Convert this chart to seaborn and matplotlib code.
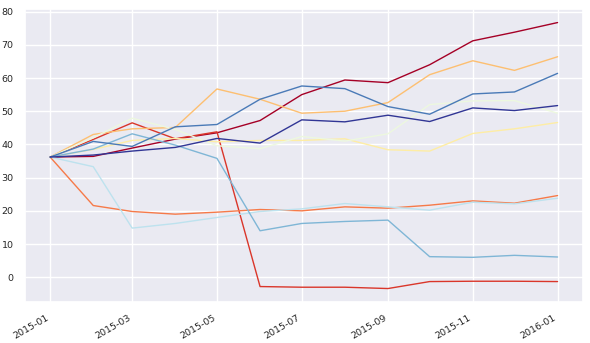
import numpy as np
import pandas as pd
import matplotlib
matplotlib.use("Agg")
import matplotlib.pyplot as plt
import matplotlib.dates as mdates
import seaborn as sns

dates = pd.date_range("2015-01-01", "2016-01-01", freq="MS")

s0 = [36.2, 36.4, 38.9, 41.6, 43.5, 47.2, 55.0, 59.4, 58.6, 64.0, 71.2, 73.8, 76.7]
s1 = [36.2, 41.5, 46.5, 41.7, 43.8, -2.8, -3.0, -3.0, -3.4, -1.3, -1.2, -1.2, -1.3]
s2 = [36.2, 21.6, 19.8, 19.0, 19.6, 20.4, 20.0, 21.2, 20.8, 21.7, 23.0, 22.3, 24.6]
s3 = [36.2, 43.0, 44.7, 45.1, 56.7, 53.6, 49.4, 50.0, 52.6, 61.0, 65.2, 62.3, 66.4]
s4 = [36.2, 38.5, 41.2, 41.8, 40.8, 41.2, 41.2, 41.7, 38.4, 38.0, 43.3, 44.7, 46.6]
s5 = [36.2, 42.0, 47.9, 44.5, 39.6, 38.7, 42.4, 41.0, 43.2, 52.0, 53.1, 53.2, 49.4]
s6 = [36.2, 33.3, 14.8, 16.2, 18.0, 19.8, 20.6, 22.2, 21.2, 20.2, 22.6, 22.1, 23.8]
s7 = [36.2, 38.6, 43.2, 39.8, 35.8, 14.0, 16.2, 16.8, 17.2, 6.2, 6.0, 6.6, 6.1]
s8 = [36.2, 40.9, 39.4, 45.3, 46.0, 53.6, 57.6, 56.8, 51.4, 49.1, 55.2, 55.8, 61.4]
s9 = [36.2, 36.8, 38.0, 39.1, 41.8, 40.4, 47.4, 46.8, 48.8, 46.9, 51.0, 50.2, 51.7]

series = [s0, s1, s2, s3, s4, s5, s6, s7, s8, s9]
names = [f"s{i}" for i in range(len(series))]

df = pd.DataFrame({n: v for n, v in zip(names, series)}, index=dates)
df.index.name = "date"
long = df.reset_index().melt(id_vars="date", var_name="series", value_name="value")

sns.set_theme(style="darkgrid")
colors = [matplotlib.colormaps["RdYlBu"](p) for p in np.linspace(0, 1, len(series))]

fig, ax = plt.subplots(figsize=(5.9, 3.43), dpi=100)
sns.lineplot(data=long, x="date", y="value", hue="series", palette=colors,
             linewidth=1.0, legend=False, ax=ax)
ax.set_xlabel("")
ax.set_ylabel("")
ax.xaxis.set_major_locator(mdates.MonthLocator(interval=2))
ax.xaxis.set_major_formatter(mdates.DateFormatter("%Y-%m"))
ax.tick_params(axis="both", labelsize=6.8, pad=2)
for lab in ax.get_xticklabels():
    lab.set_rotation(30)
    lab.set_ha("right")
fig.subplots_adjust(left=0.042, right=0.988, top=0.973, bottom=0.12)
fig.savefig("out.png", dpi=100)
